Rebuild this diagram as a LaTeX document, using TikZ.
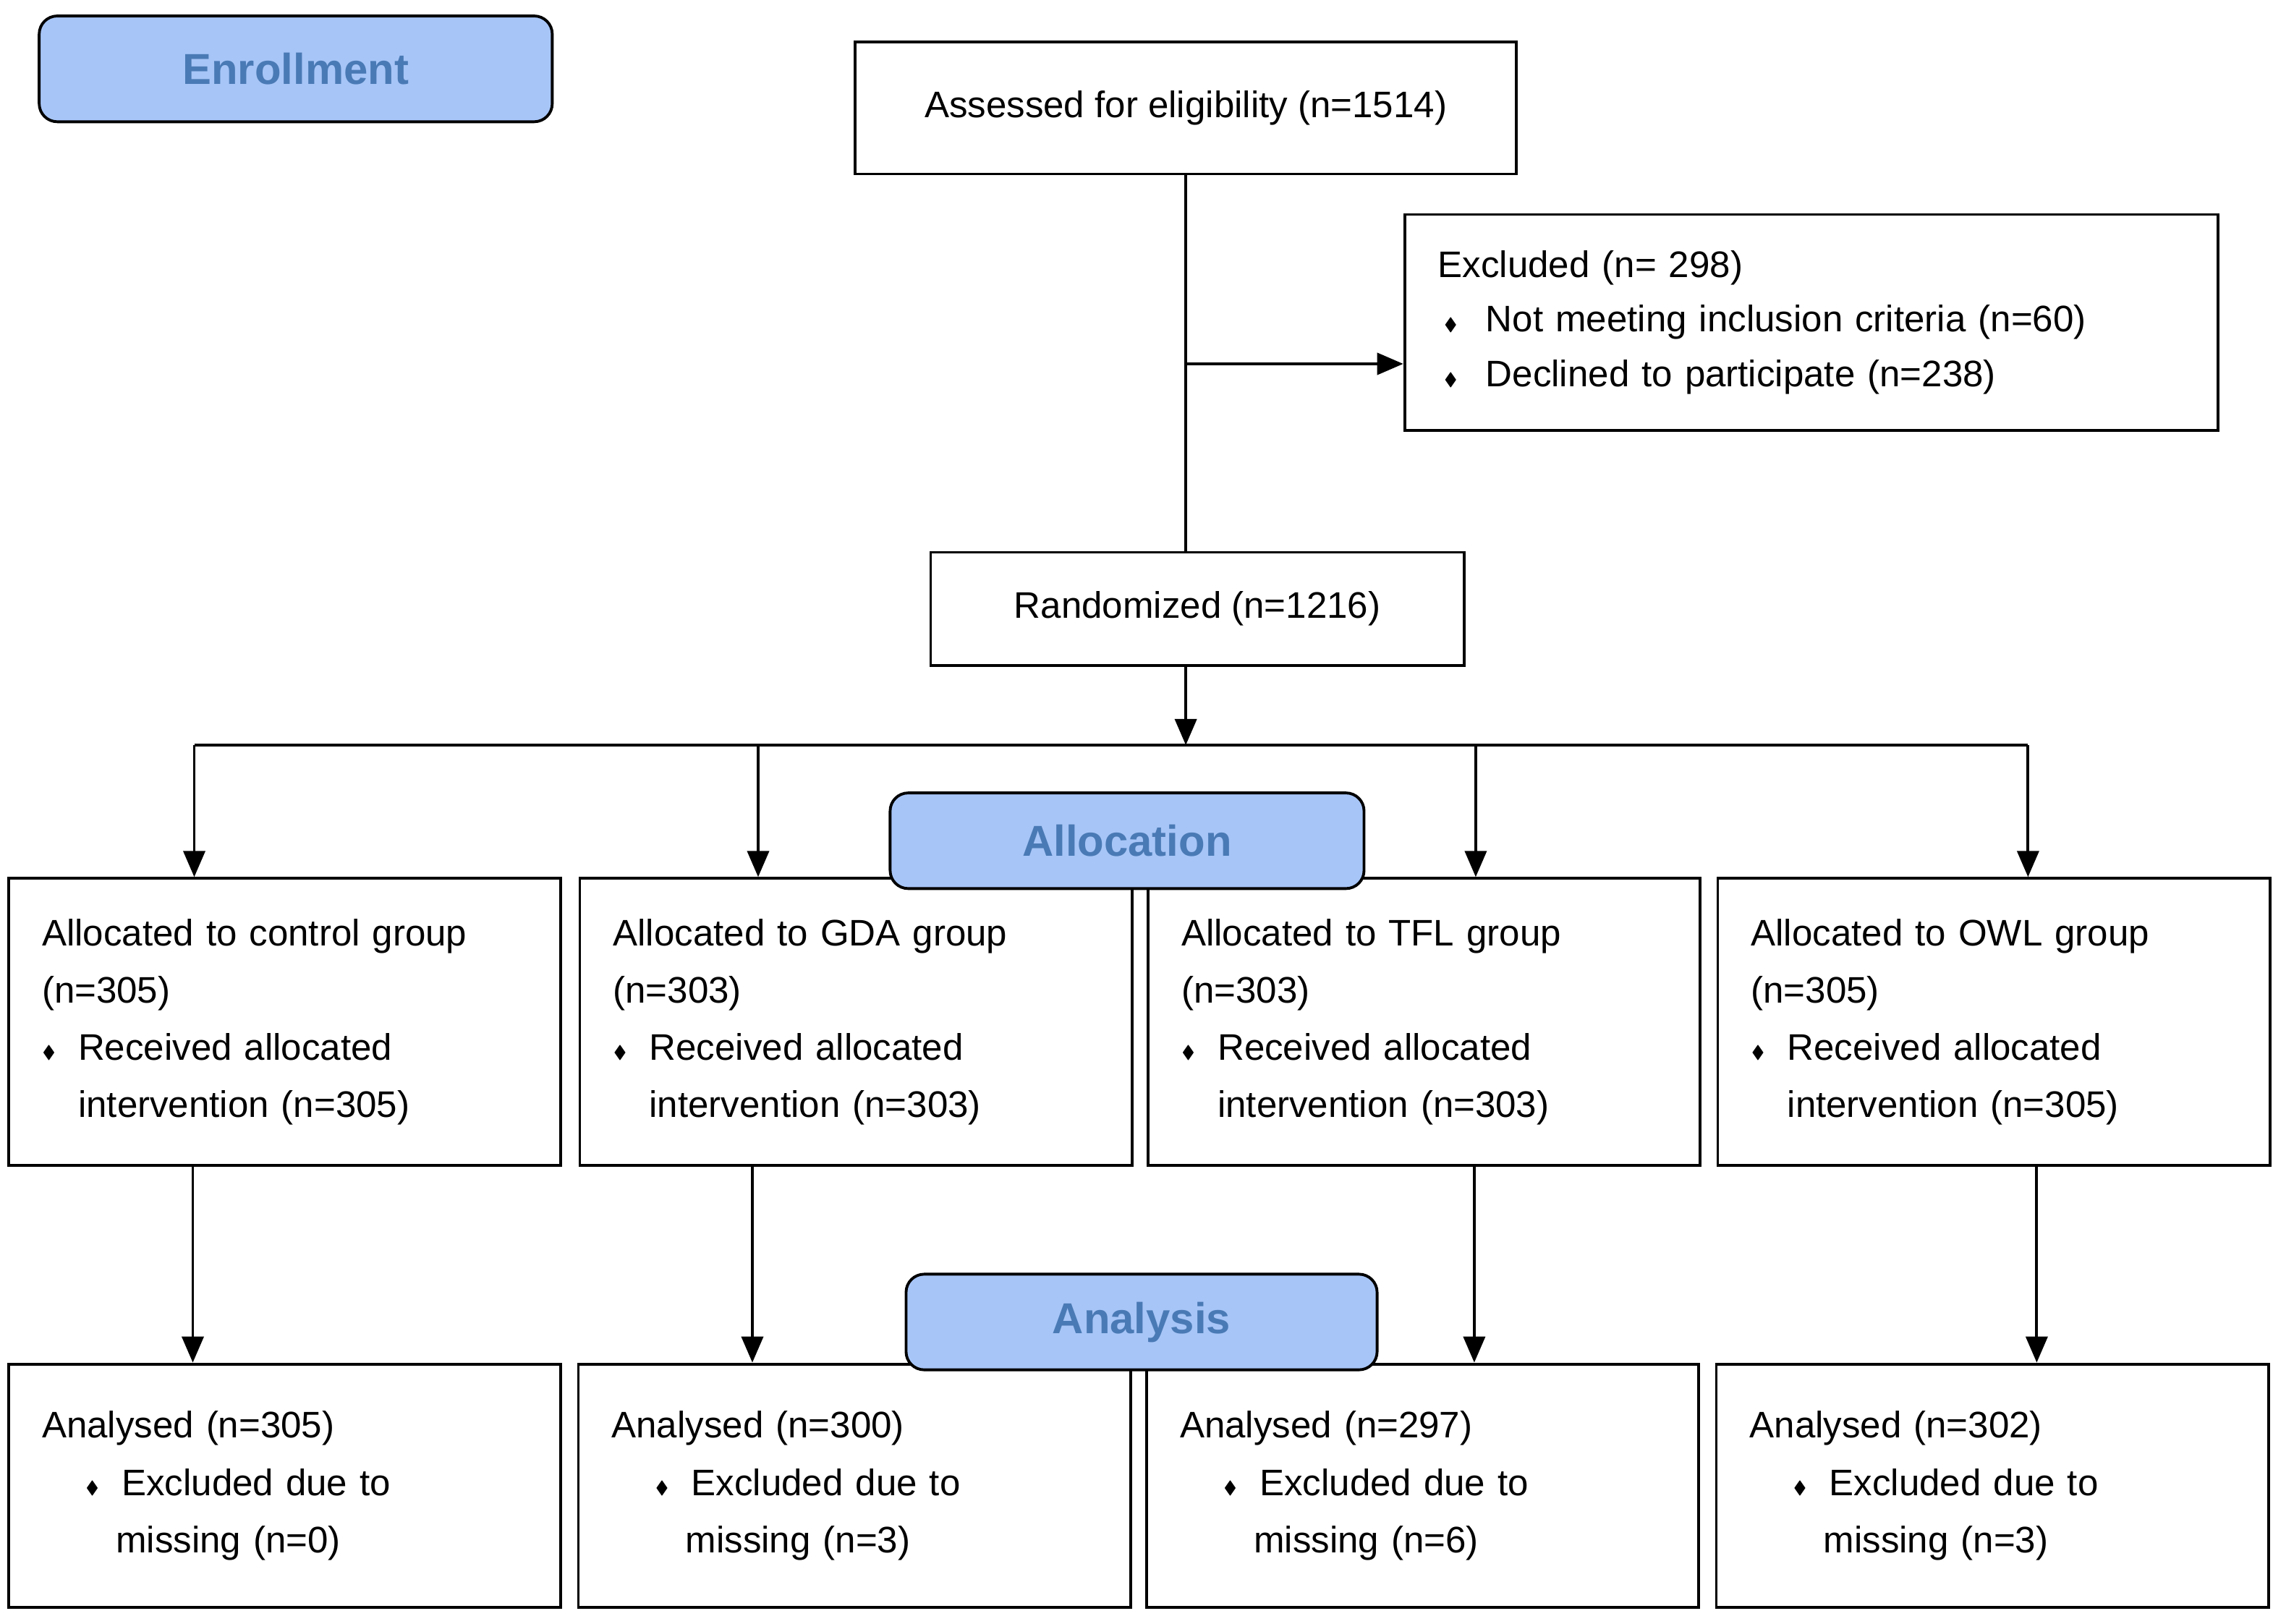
\documentclass[tikz,border=0pt]{standalone}
\usepackage{amssymb}
\usepackage{fontspec}
\setmainfont{Liberation Sans}
\usetikzlibrary{arrows.meta}
\definecolor{labelfill}{HTML}{A7C5F7}
\definecolor{labeltext}{HTML}{4A7AB5}
\tikzstyle{box} = [rectangle, draw=black, line width=1.1pt, fill=white,
  font=\fontsize{14.5}{22.5}\selectfont]
\tikzstyle{listbox} = [box, anchor=north west, align=left, inner xsep=0.46cm]
\tikzstyle{stage} = [rectangle, rounded corners=0.25cm, draw=black, line width=1.1pt,
  fill=labelfill, text=labeltext, font=\fontsize{17}{20}\selectfont\bfseries]
\tikzstyle{arrow} = [line width=1.1pt, -{Triangle[length=0.36cm,width=0.3cm]}]
\tikzstyle{line} = [line width=1.1pt]
\newcommand{\dia}{\makebox[0.5cm][l]{\raisebox{0.05em}{\scriptsize$\blacklozenge$}}}
\begin{document}
\begin{tikzpicture}[x=0.02cm, y=-0.02cm]
    \useasboundingbox (0,0) rectangle (1568,1120);

    \node (assess) [box, minimum width=9.12cm, minimum height=1.82cm] at (818,74.5) {Assessed for eligibility (n=1514)};
    \node (excl) [listbox, minimum width=11.22cm, minimum height=2.98cm, text width=10.3cm,
      font=\fontsize{14.5}{21.5}\selectfont] at (968,147)
      {Excluded (n= 298)\\
       \hspace*{0.08cm}\makebox[0.58cm][l]{\raisebox{0.05em}{\scriptsize$\blacklozenge$}}Not meeting inclusion criteria (n=60)\\
       \hspace*{0.08cm}\makebox[0.58cm][l]{\raisebox{0.05em}{\scriptsize$\blacklozenge$}}Declined to participate (n=238)};
    \node (rand) [box, minimum width=7.36cm, minimum height=1.56cm] at (826,420) {Randomized (n=1216)};

    % Allocated groups
    \node (g1) [listbox, minimum width=7.56cm, minimum height=3.96cm, text width=6.7cm] at (5,605)
      {Allocated to control group\\(n=305)\\\dia Received allocated\\\hspace*{0.5cm}intervention (n=305)};
    \node (g2) [listbox, minimum width=7.56cm, minimum height=3.96cm, text width=6.7cm] at (399,605)
      {Allocated to GDA group\\(n=303)\\\dia Received allocated\\\hspace*{0.5cm}intervention (n=303)};
    \node (g3) [listbox, minimum width=7.56cm, minimum height=3.96cm, text width=6.7cm] at (791,605)
      {Allocated to TFL group\\(n=303)\\\dia Received allocated\\\hspace*{0.5cm}intervention (n=303)};
    \node (g4) [listbox, minimum width=7.56cm, minimum height=3.96cm, text width=6.7cm] at (1184,605)
      {Allocated to OWL group\\(n=305)\\\dia Received allocated\\\hspace*{0.5cm}intervention (n=305)};

    % Analysed groups
    \node (a1) [listbox, minimum width=7.56cm, minimum height=3.36cm, text width=6.7cm] at (5,940)
      {Analysed (n=305)\\\hspace*{0.6cm}\dia Excluded due to\\\hspace*{1.02cm}missing (n=0)};
    \node (a2) [listbox, minimum width=7.56cm, minimum height=3.36cm, text width=6.7cm] at (398,940)
      {Analysed (n=300)\\\hspace*{0.6cm}\dia Excluded due to\\\hspace*{1.02cm}missing (n=3)};
    \node (a3) [listbox, minimum width=7.56cm, minimum height=3.36cm, text width=6.7cm] at (790,940)
      {Analysed (n=297)\\\hspace*{0.6cm}\dia Excluded due to\\\hspace*{1.02cm}missing (n=6)};
    \node (a4) [listbox, minimum width=7.56cm, minimum height=3.36cm, text width=6.7cm] at (1183,940)
      {Analysed (n=302)\\\hspace*{0.6cm}\dia Excluded due to\\\hspace*{1.02cm}missing (n=3)};

    % Connectors
    \coordinate (exbranch) at (818,251);
    \coordinate (split) at (818,514);
    \coordinate (sl) at (134,514);
    \coordinate (sr) at (1399,514);
    \draw [line] (assess.south) -- (assess.south |- rand.north);
    \draw [arrow] (exbranch) -- (exbranch -| excl.west);
    \draw [arrow] (assess.south |- rand.south) -- (split);
    \draw [line] (sl) -- (sr);
    \foreach \x/\g in {134/g1, 523/g2, 1018/g3, 1399/g4}
        \draw [arrow] (\x,514) -- (\x,514 |- \g.north);
    \foreach \x/\g/\a in {133/g1/a1, 519/g2/a2, 1017/g3/a3, 1405/g4/a4}
        \draw [arrow] (\x,0 |- \g.south) -- (\x,0 |- \a.north);

    % Stage labels
    \node (enroll) [stage, minimum width=7.08cm, minimum height=1.46cm] at (204,47.5) {Enrollment};
    \node (alloc) [stage, minimum width=6.54cm, minimum height=1.32cm] at (777.5,580) {Allocation};
    \node (anal) [stage, minimum width=6.5cm, minimum height=1.32cm] at (787.5,912) {Analysis};
\end{tikzpicture}
\end{document}
